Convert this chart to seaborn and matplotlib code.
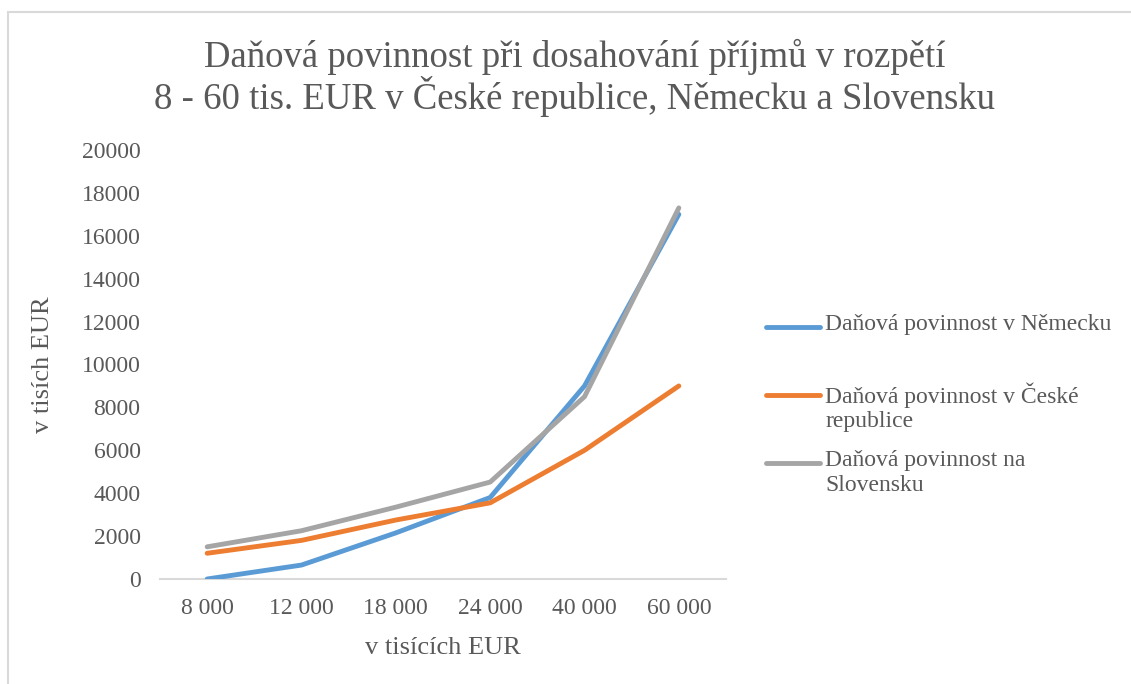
import pandas as pd
import matplotlib.pyplot as plt
import seaborn as sns
from matplotlib.patches import Rectangle
from matplotlib.lines import Line2D

# income levels (category axis)
prijmy = ["8 000", "12 000", "18 000", "24 000", "40 000", "60 000"]

# tax liability
nemecko = [0, 650, 2150, 3800, 9000, 17000]
cesko = [1200, 1800, 2750, 3550, 6000, 9000]
slovensko = [1500, 2250, 3350, 4520, 8500, 17300]

serie = ["Daňová povinnost v Německu",
         "Daňová povinnost v České\nrepublice",
         "Daňová povinnost na\nSlovensku"]
barvy = ["#5B9BD5", "#ED7D31", "#A5A5A5"]

df = pd.concat([
    pd.DataFrame({"prijem": prijmy, "dan": nemecko, "zeme": serie[0]}),
    pd.DataFrame({"prijem": prijmy, "dan": cesko, "zeme": serie[1]}),
    pd.DataFrame({"prijem": prijmy, "dan": slovensko, "zeme": serie[2]}),
])

sns.set_style("white")
plt.rcParams['font.family'] = ['Liberation Serif', 'DejaVu Serif']
txt = "#595959"

W, H = 1131, 684
fig = plt.figure(figsize=(W / 100, H / 100), dpi=100)
ax = fig.add_axes([160 / W, 1 - 579 / H, 566 / W, 429 / H])

sns.lineplot(data=df, x="prijem", y="dan", hue="zeme", sort=False,
             palette=barvy, linewidth=3.5, solid_capstyle="round",
             legend=False, ax=ax)

ax.set_xlim(-0.5, len(prijmy) - 0.5)
ax.set_ylim(0, 20000)
ax.set_yticks(range(0, 20001, 2000))
for s in ["top", "right", "left"]:
    ax.spines[s].set_visible(False)
ax.spines["bottom"].set_color("#D9D9D9")
ax.spines["bottom"].set_linewidth(1.5)
ax.spines["bottom"].set_zorder(0)
ax.tick_params(length=0, labelsize=17, labelcolor=txt)
ax.tick_params(axis="x", pad=14)
ax.tick_params(axis="y", pad=14)

ax.set_xlabel("v tisících EUR", fontsize=19, color=txt, labelpad=13)
ax.set_ylabel("v tisích EUR", fontsize=19, color=txt, labelpad=20)

fig.text(0.508, 1 - 78 / H,
         "Daňová povinnost při dosahování příjmů v rozpětí\n8 - 60 tis. EUR v České republice, Německu a Slovensku",
         ha="center", va="center", fontsize=26.5, color=txt, linespacing=1.05)

# legend: handle aligned with the first text line, as in Excel
for i, (lab, c) in enumerate(zip(serie, barvy)):
    y = 1 - (327 + 68 * i) / H
    fig.add_artist(Line2D([766 / W, 820 / W], [y, y], color=c, linewidth=3.5,
                          solid_capstyle="round", transform=fig.transFigure))
    fig.text(825 / W, y + 13 / H, lab, ha="left", va="top", fontsize=17,
             color=txt, linespacing=1.25, transform=fig.transFigure)

fig.patches.append(Rectangle((8 / W, -0.1), 1.2, 1 - 12 / H + 0.1,
                             transform=fig.transFigure, fill=False,
                             edgecolor="#D9D9D9", linewidth=1.5))

fig.savefig("out.png", dpi=100)
